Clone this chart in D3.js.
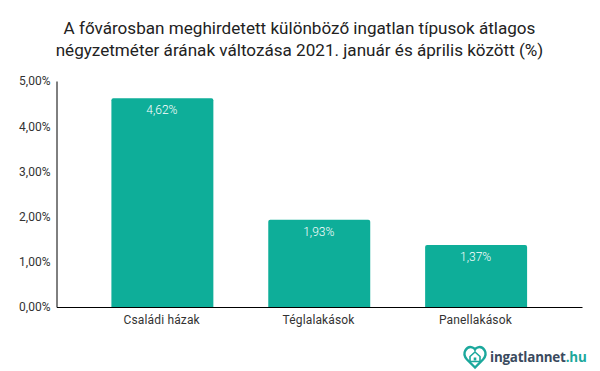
<!DOCTYPE html>
<html>
<head>
<meta charset="utf-8">
<script src="https://cdn.jsdelivr.net/npm/d3@7"></script>
<style>
  body { margin: 0; background: #fff; }
  text { font-family: Roboto, sans-serif; }
</style>
</head>
<body>
<svg id="chart" width="600" height="371"></svg>
<script>
var categories = ['Családi házak', 'Téglalakások', 'Panellakások']
var values = [4.62, 1.93, 1.37]
var valueLabels = ['4,62%', '1,93%', '1,37%']
var ticks = [0, 1, 2, 3, 4, 5]
var tickLabels = ['0,00%', '1,00%', '2,00%', '3,00%', '4,00%', '5,00%']
var titleLines = ['A fővárosban meghirdetett különböző ingatlan típusok átlagos',
  'négyzetméter árának változása 2021. január és április között (%)']

var svg = d3.select('#chart')
var plotLeft = 56.5, plotRight = 582, plotTop = 81, plotBottom = 307

var x = d3.scaleBand().domain(categories).range([plotLeft, plotRight]).padding(0.35)
var y = d3.scaleLinear().domain([0, 5]).range([plotBottom, plotTop])

svg.selectAll('.title')
  .data(titleLines)
  .enter()
  .append('text')
  .attr('class', 'title')
  .attr('x', 299.5)
  .attr('y', function(d, i) { return 33.5 + i * 22 })
  .attr('text-anchor', 'middle')
  .attr('font-size', 17.1)
  .attr('fill', '#222')
  .text(function(d) { return d })

svg.selectAll('.bar')
  .data(values)
  .enter()
  .append('path')
  .attr('class', 'bar')
  .attr('fill', '#0eae99')
  .attr('d', function(d, i) {
    var x0 = x(categories[i]), w = x.bandwidth(), t = y(d), r = 2
    return 'M' + x0 + ',' + plotBottom + 'V' + (t + r) + 'Q' + x0 + ',' + t + ' ' + (x0 + r) + ',' + t +
      'H' + (x0 + w - r) + 'Q' + (x0 + w) + ',' + t + ' ' + (x0 + w) + ',' + (t + r) + 'V' + plotBottom + 'Z'
  })

svg.selectAll('.value')
  .data(values)
  .enter()
  .append('text')
  .attr('class', 'value')
  .attr('x', function(d, i) { return x(categories[i]) + x.bandwidth() / 2 - 0.5 })
  .attr('y', function(d) { return y(d) + 16 })
  .attr('text-anchor', 'middle')
  .attr('font-size', 12)
  .attr('font-weight', 300)
  .attr('fill', '#fff')
  .text(function(d, i) { return valueLabels[i] })

var yAxis = d3.axisLeft(y).tickValues(ticks).tickSize(0).tickPadding(6)
  .tickFormat(function(d, i) { return tickLabels[i] })
var yG = svg.append('g').attr('transform', 'translate(' + plotLeft + ',0)').call(yAxis)
yG.select('.domain').attr('stroke', '#000').attr('stroke-width', 1)
yG.selectAll('text').attr('font-size', 12).attr('fill', '#333').style('font-family', 'Roboto, sans-serif')

var xAxis = d3.axisBottom(x).tickSize(0).tickPadding(8)
var xG = svg.append('g').attr('transform', 'translate(0,' + plotBottom + ')').call(xAxis)
xG.select('.domain').attr('stroke', '#000').attr('stroke-width', 1)
xG.selectAll('text').attr('font-size', 12).attr('fill', '#333').attr('letter-spacing', 0.15)
  .attr('dx', -0.7).style('font-family', 'Roboto, sans-serif')

// logo
var logo = svg.append('g').attr('transform', 'translate(475,357.5)')
logo.append('path')
  .attr('d', 'M0,10 L-8,2 C-14,-5 -8,-11.5 -3,-10.2 C-1.5,-9.8 -0.5,-9 0,-8 C0.5,-9 1.5,-9.8 3,-10.2 C8,-11.5 14,-5 8,2 Z')
  .attr('fill', 'none')
  .attr('stroke', '#1ba89c')
  .attr('stroke-width', 2.4)
logo.append('path')
  .attr('d', 'M0,-5.5 L-5,-1 V4 H5 V-1 Z')
  .attr('fill', 'none')
  .attr('stroke', '#1ba89c')
  .attr('stroke-width', 1.6)
logo.append('rect')
  .attr('x', -1.3).attr('y', 0).attr('width', 2.6).attr('height', 3)
  .attr('fill', '#1ba89c')

var logoText = svg.append('text')
  .attr('x', 490)
  .attr('y', 362)
  .attr('font-size', 13.4)
  .attr('font-weight', 700)
  .attr('letter-spacing', -0.2)
  .style('font-family', "'Open Sans', sans-serif")
  .attr('fill', '#3a4a5e')
logoText.append('tspan').text('ingatlannet')
logoText.append('tspan').attr('fill', '#1ba89c').text('.hu')
</script>
</body>
</html>
